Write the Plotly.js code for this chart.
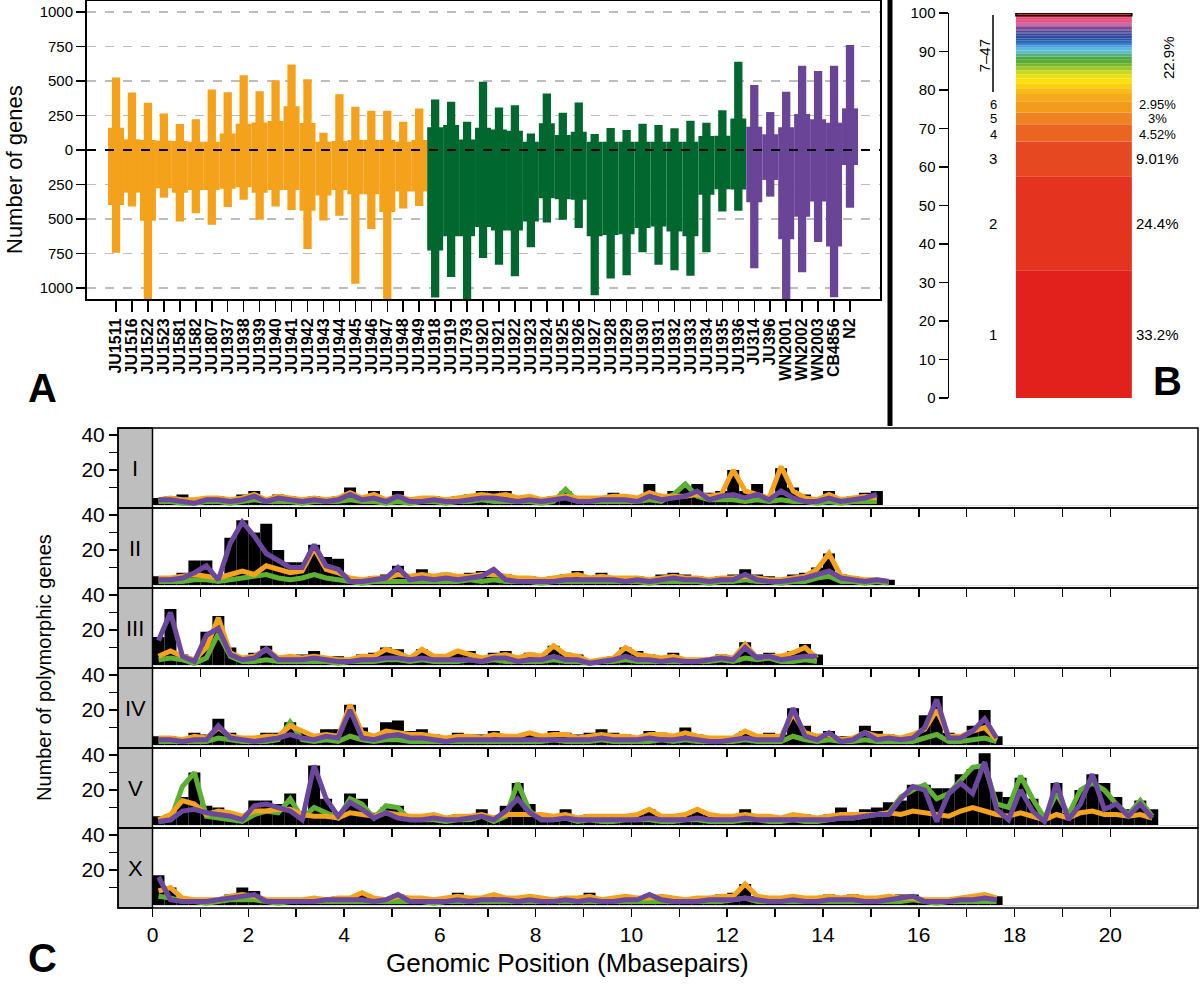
<!DOCTYPE html>
<html><head><meta charset="utf-8">
<script src="https://cdn.plot.ly/plotly-3.0.1.min.js"></script>
<style>html,body{margin:0;padding:0;background:#fff}</style>
</head><body><div id="chart" style="width:1200px;height:984px"></div>
<script>
// ---------------- Panel A data ----------------
const strains = ['JU1511','JU1516','JU1522','JU1523','JU1581','JU1582','JU1807','JU1937','JU1938','JU1939','JU1940','JU1941','JU1942','JU1943','JU1944','JU1945','JU1946','JU1947','JU1948','JU1949',
 'JU1918','JU1919','JU1793','JU1920','JU1921','JU1922','JU1923','JU1924','JU1925','JU1926','JU1927','JU1928','JU1929','JU1930','JU1931','JU1932','JU1933','JU1934','JU1935','JU1936',
 'JU314','JU396','WN2001','WN2002','WN2003','CB4856','N2'];
const strainGroup = ['g1','g1','g1','g1','g1','g1','g1','g1','g1','g1','g1','g1','g1','g1','g1','g1','g1','g1','g1','g1',
 'g2','g2','g2','g2','g2','g2','g2','g2','g2','g2','g2','g2','g2','g2','g2','g2','g2','g2','g2','g2',
 'g3','g3','g3','g3','g3','g3','g3'];
// narrow bars (upper / lower extent, number of genes)
const narrowUp   = [525,417,342,265,188,222,439,419,542,426,506,619,513,125,405,313,284,284,205,301,
                    366,349,205,494,308,325,120,410,270,345,116,159,145,190,181,157,212,198,289,639,
                    471,275,423,611,572,611,761];
const narrowDown = [745,410,1100,345,518,458,542,414,361,506,410,434,718,511,477,969,573,1100,424,405,
                    1070,920,1100,783,831,916,704,525,506,566,1053,932,908,742,831,872,911,742,446,440,
                    857,338,1100,886,667,1068,418];
// wide bars
const wideUp     = [162,77,72,68,65,60,60,120,190,200,210,318,195,60,65,72,72,72,60,72,
                    165,181,77,161,149,140,60,193,108,132,60,60,60,60,60,60,60,101,104,229,
                    169,114,164,261,222,198,302];
const wideDown   = [398,309,512,278,310,290,290,280,270,310,290,290,440,330,290,320,320,450,300,300,
                    728,626,626,559,583,583,518,349,357,361,626,617,610,566,554,590,626,325,285,287,
                    379,217,647,483,374,700,109];
const groupColor = {g1:'#f4a11b', g2:'#00672f', g3:'#6a4597'};
const yTicksA = [-1000,-750,-500,-250,0,250,500,750,1000];

// ---------------- Panel B data ----------------
const classLabels = ['1','2','3','4','5','6','7','8','9','10','11','12','13','14','15','16','17','18','19','20','21','22','23','24','25','26','27','28','29','30','31','32','33','34','35','36','37','38','39','40','41','42','43','44','45','46','47'];
const classPct = [33.2,24.4,9.01,4.52,3.0,2.95,
  1.9,1.5,1.3,1.2,1.1,1.05,0.95,0.9,0.9,0.85,0.8,0.75,0.7,0.65,0.6,0.55,0.5,0.48,0.45,0.42,
  0.4,0.38,0.36,0.34,0.32,0.3,0.28,0.26,0.24,0.22,0.2,0.19,0.18,0.17,0.16,0.15,0.14,0.13,0.12,0.11,0.7];
const classColors = ['#e3211c','#e4331f','#e64821','#ea6422','#ef8321','#f39c1c',
  '#f5ab1c','#f8bb17','#fbd010','#fde20a','#e8e012','#c8d820','#a0c828','#78b830','#5aac35','#4aa840',
  '#58b080','#60bcd0','#58b8e0','#4aa0d8','#3a80c8','#2e68b8','#2a58a8','#2a50a0','#2c4c9c','#3a4a9a',
  '#4a4898','#5a4896','#6a4894','#7a4892','#8a4690','#9a448e','#aa408a','#ba3c86','#c83880','#d4347a',
  '#dc3074','#e22c6c','#e62a64','#e8285c','#e82854','#e6264c','#e42444','#e2223c','#e02234','#de2230','#dc222c'];
const pctLabels = ['33.2%','24.4%','9.01%','4.52%','3%','2.95%'];
const restLabel = '7\u201347';
const restPct = '22.9%';

// ---------------- Panel C data (bins of 0.25 Mb) ----------------
const binSizeMb = 0.25;
const chromosomes = ['I','II','III','IV','V','X'];
const chrI_black  = [4,5,6,3,4,5,3,6,8,4, 6,5,4,5,4,5,10,5,8,4, 8,4,4,5,4,5,6,8,8,8, 5,5,4,5,8,5,4,5,7,5, 4,12,6,8,10,12,7,8,20,8, 12,5,21,10,6,4,8,4,5,7, 8];
const chrI_orange = [3,4,3,3,4,4,3,4,6,3, 5,4,3,4,3,4,7,4,6,3, 5,3,4,4,3,4,5,6,5,6, 4,5,3,4,5,4,4,4,5,5, 4,7,5,5,5,6,5,6,20,8, 6,4,22,8,4,3,6,3,4,5, 4];
const chrI_green  = [2,2,1,1,2,2,1,2,3,2, 2,2,1,2,2,2,3,2,2,1, 2,1,2,2,1,2,2,3,2,2, 2,2,1,2,9,2,2,2,2,2, 2,3,2,6,12,5,3,3,3,2, 3,2,3,2,2,1,2,1,2,2, 2];
const chrI_purple = [3,3,2,1,3,3,2,3,5,2, 4,3,2,3,2,3,6,3,4,2, 5,2,2,3,2,2,3,4,4,3, 2,3,2,3,4,2,2,3,3,3, 2,5,3,4,5,8,3,5,6,4, 6,3,8,4,2,2,4,2,3,4, 6];

const chrII_black  = [5,5,7,14,14,5,27,37,30,35, 20,13,13,23,16,15,4,4,5,6, 11,6,9,6,7,6,7,8,8,6, 5,5,4,5,6,8,5,7,5,4, 5,4,6,7,6,5,4,5,6,9, 6,5,4,6,7,10,18,6,5,4, 4,3];
const chrII_orange = [4,4,5,6,5,4,6,8,6,11, 9,7,8,21,9,7,4,3,4,4, 6,5,6,5,6,5,5,6,6,5, 4,4,3,4,5,6,4,5,4,4, 4,3,4,5,4,4,3,4,4,5, 4,3,3,4,5,9,18,5,4,3, 3,2];
const chrII_green  = [2,2,2,3,3,2,3,4,5,6, 4,3,4,6,4,3,2,1,2,2, 2,2,2,2,2,2,3,2,3,2, 2,2,1,2,2,2,2,2,2,2, 2,1,2,2,2,2,1,2,2,3, 2,2,1,2,2,4,5,2,2,1, 2,1];
const chrII_purple = [3,3,4,7,11,3,24,36,28,18, 14,10,10,23,11,9,2,2,3,4, 10,3,4,3,4,3,4,5,9,3, 2,2,2,2,3,3,3,3,3,2, 3,2,3,4,3,3,2,3,3,6, 3,2,2,3,4,6,8,4,3,2, 3,2];

const chrIII_black  = [16,32,6,3,19,28,10,5,7,11, 5,5,6,8,4,5,4,6,7,10, 9,5,9,6,6,7,8,5,7,8, 5,7,6,11,7,6,3,3,5,10, 8,6,5,7,4,3,4,6,5,13, 6,7,5,8,12,6];
const chrIII_orange = [5,8,5,3,10,27,7,4,5,9, 4,5,4,5,4,3,3,5,5,9, 7,4,9,5,5,8,6,4,5,6, 4,6,5,11,6,5,2,3,4,10, 6,5,4,5,3,3,3,5,4,12, 4,5,5,7,10,4];
const chrIII_green  = [3,4,3,1,4,18,5,2,2,3, 2,2,2,2,2,1,2,2,2,3, 3,2,3,2,2,2,3,2,3,2, 2,2,2,3,2,2,1,2,2,3, 2,2,2,2,2,2,2,3,2,4, 3,4,2,2,3,2];
const chrIII_purple = [14,30,5,2,17,21,6,3,4,9, 3,3,3,4,3,2,2,3,3,4, 4,3,4,3,3,3,3,2,4,4, 2,3,3,5,3,3,1,2,3,5, 3,3,2,3,2,2,3,4,3,10, 4,5,3,4,5,5];

const chrIV_black  = [5,5,4,7,6,15,7,5,4,7, 7,13,8,6,9,9,23,10,6,13, 14,8,9,6,5,7,6,6,8,6, 6,7,6,8,7,6,7,9,7,6, 5,8,7,6,10,6,5,4,5,8, 6,7,6,21,11,6,8,5,5,11, 8,6,5,6,17,28,7,6,11,20, 5];
const chrIV_orange = [4,4,3,5,4,10,5,4,4,5, 5,11,8,5,6,5,23,7,5,8, 7,6,6,5,4,5,5,4,6,5, 5,7,5,6,6,4,5,6,5,5, 4,6,6,5,7,5,4,4,4,8, 5,5,5,18,7,5,6,3,4,7, 5,5,4,6,9,20,5,5,8,10, 3];
const chrIV_green  = [2,2,2,2,2,4,3,2,2,2, 3,13,3,2,3,2,5,3,2,3, 3,2,2,2,2,2,2,2,2,2, 2,2,2,3,2,2,2,3,2,2, 2,2,3,2,3,2,2,2,2,3, 2,2,2,5,3,2,3,2,2,3, 2,2,2,2,4,6,2,2,3,4, 2];
const chrIV_purple = [3,3,2,3,3,11,4,3,2,3, 4,6,4,3,5,4,20,4,3,5, 6,4,4,3,2,3,3,3,3,3, 3,3,3,3,3,3,3,4,3,3, 3,4,3,3,4,3,2,2,3,4, 3,3,3,21,5,3,7,2,3,7, 3,4,3,4,10,26,4,4,8,15, 4];

const chrV_black  = [5,6,16,30,11,10,7,6,14,14, 12,18,8,34,15,7,18,15,7,10, 11,6,6,6,5,6,6,9,4,11, 24,12,6,6,9,5,6,5,5,5, 6,9,6,5,6,9,6,5,5,9, 6,5,5,6,6,5,6,10,7,9, 10,13,14,23,23,21,21,29,32,41, 19,16,27,15,6,24,7,20,29,24, 16,9,14,9];
const chrV_orange = [3,6,14,12,6,8,7,5,8,8, 9,9,6,5,5,4,7,6,5,7, 6,5,5,6,4,5,5,6,4,6, 6,6,6,5,6,4,5,5,5,5, 6,9,5,5,6,9,6,5,5,6, 5,5,4,6,5,4,5,6,6,6, 6,7,6,8,7,6,5,8,10,8, 6,5,7,5,3,6,4,7,8,6, 6,5,6,4];
const chrV_green  = [2,3,22,30,5,4,3,2,6,8, 7,15,4,10,7,4,15,12,4,11, 10,3,3,3,2,3,3,5,2,5, 24,8,3,3,4,2,3,2,2,3, 3,3,2,2,3,3,2,2,2,3, 3,2,2,3,2,2,3,4,4,5, 6,7,16,20,23,15,18,25,33,34, 12,10,28,15,4,18,6,20,24,20, 12,6,14,5];
const chrV_purple = [2,3,8,9,7,6,5,3,11,12, 10,8,3,34,15,5,13,9,4,7, 4,3,3,4,3,3,4,5,3,8, 15,7,3,3,4,3,3,3,3,3, 3,4,3,3,3,4,3,3,3,4, 3,3,3,3,3,3,3,4,4,5, 6,6,15,22,20,2,18,24,18,36, 9,3,20,8,2,24,3,12,29,9, 12,5,12,4];

const chrX_black  = [17,10,4,3,3,4,6,10,8,4, 3,4,3,4,4,5,5,6,4,4, 6,4,4,3,4,7,5,5,6,5, 4,5,4,4,5,4,7,4,4,5, 4,6,5,4,4,4,5,6,7,12, 5,5,5,5,4,5,6,5,6,4, 4,5,6,6,3,3,4,4,5,6, 5];
const chrX_orange = [8,10,4,3,3,3,5,6,5,3, 3,3,3,4,3,4,4,7,4,3, 5,4,4,3,4,5,4,4,6,4, 4,5,4,3,4,4,5,3,4,5, 4,4,5,4,3,4,4,5,5,12, 5,4,4,5,4,4,5,4,5,4, 4,5,4,4,3,3,3,4,5,6, 4];
const chrX_green  = [5,4,2,2,1,2,3,3,3,2, 1,2,2,2,2,2,2,2,2,2, 2,2,2,1,2,2,2,2,2,2, 2,2,2,2,2,2,2,2,2,2, 2,2,2,2,2,2,2,2,3,4, 2,2,2,2,2,2,2,2,2,2, 2,2,2,3,2,1,2,2,2,2, 2];
const chrX_purple = [16,3,2,2,2,3,4,5,6,2, 2,2,2,2,3,3,3,3,2,3, 6,2,2,2,2,3,2,3,3,3, 2,3,2,2,3,2,3,2,2,3, 3,6,3,2,2,2,3,3,3,4, 3,2,2,3,2,2,3,3,3,2, 2,3,4,5,2,2,2,3,3,4, 3];

const chrData = [
  {black:chrI_black,   green:chrI_green,   orange:chrI_orange,   purple:chrI_purple},
  {black:chrII_black,  green:chrII_green,  orange:chrII_orange,  purple:chrII_purple},
  {black:chrIII_black, green:chrIII_green, orange:chrIII_orange, purple:chrIII_purple},
  {black:chrIV_black,  green:chrIV_green,  orange:chrIV_orange,  purple:chrIV_purple},
  {black:chrV_black,   green:chrV_green,   orange:chrV_orange,   purple:chrV_purple},
  {black:chrX_black,   green:chrX_green,   orange:chrX_orange,   purple:chrX_purple}
];
const mbTicks = [0,1,2,3,4,5,6,7,8,9,10,11,12,13,14,15,16,17,18,19,20];

// ---------------- Layout helpers ----------------
const W = 1200, H = 984;
const fx = p => p / W;
const fy = p => 1 - p / H;
const FONT = 'Liberation Sans, Arial, Helvetica, sans-serif';
const lineColors = {green:'#5db132', orange:'#f5a31c', purple:'#6b489e'};

const traces = [];
const idx = strains.map((s, i) => i);
const barColors = strainGroup.map(g => groupColor[g]);

traces.push({type:'bar', x: idx, y: idx.map(i => wideUp[i] + wideDown[i]), base: idx.map(i => -wideDown[i]),
  width: 1.0, marker:{color: barColors, line:{width:0}}, xaxis:'x', yaxis:'y', hoverinfo:'skip'});
traces.push({type:'bar', x: idx, y: idx.map(i => narrowUp[i] + narrowDown[i]), base: idx.map(i => -narrowDown[i]),
  width: 0.52, marker:{color: barColors, line:{width:0}}, xaxis:'x', yaxis:'y', hoverinfo:'skip'});

// Panel B
const cum = [];
classPct.reduce((acc, v, i) => { cum[i] = acc; return acc + v; }, 0);
traces.push({type:'bar', x: classPct.map(() => 'share'), y: classPct, base: cum, width: 0.8,
  marker:{color: classColors,
          line:{color: classPct.map(() => '#000'), width: classPct.map((v, i) => i === classPct.length - 1 ? 1.5 : 0)}},
  xaxis:'x2', yaxis:'y2', hoverinfo:'skip', text: classLabels, textposition:'none'});

// Panel C
chromosomes.forEach((c, k) => {
  const d = chrData[k];
  const xs = d.black.map((v, i) => binSizeMb * (i + 0.5));
  const xa = 'x' + (k + 3), ya = 'y' + (k + 3);
  traces.push({type:'bar', x: xs, y: d.black, width: binSizeMb, marker:{color:'#000', line:{width:0}}, xaxis: xa, yaxis: ya, hoverinfo:'skip'});
  ['green','orange','purple'].forEach(s => {
    traces.push({type:'scatter', mode:'lines', x: xs, y: d[s], line:{color: lineColors[s], width: 5}, xaxis: xa, yaxis: ya, hoverinfo:'skip'});
  });
});

const layout = {
  width: W, height: H, margin:{l:0, r:0, t:0, b:0}, paper_bgcolor:'#fff', plot_bgcolor:'rgba(0,0,0,0)',
  showlegend:false, barmode:'overlay', hovermode:false,
  font:{family: FONT, color:'#000'},
  xaxis:{domain:[fx(87), fx(880)], range:[-1.82, 47.88], anchor:'y', tickvals: idx, ticktext: strains, tickangle:-90,
    tickfont:{size:16, weight:'bold', family: FONT}, ticks:'outside', ticklen:11, tickwidth:1.5, tickcolor:'#000',
    showline:true, mirror:true, linewidth:2, linecolor:'#000', showgrid:false, zeroline:false},
  yaxis:{domain:[fy(299), fy(1)], range:[-1080, 1080], anchor:'x', tickvals: yTicksA, ticktext: yTicksA.map(v => String(Math.abs(v))),
    tickfont:{size:15}, ticks:'outside', ticklen:9, tickwidth:1.5, tickcolor:'#000',
    showgrid:true, gridcolor:'#bdbdbd', gridwidth:1.5, griddash:'dash', zeroline:false,
    showline:true, mirror:true, linewidth:2, linecolor:'#000'},
  xaxis2:{domain:[fx(949), fx(1195)], type:'category', range:[-0.862, 0.836], anchor:'y2', showline:false, showticklabels:false, ticks:'', showgrid:false, zeroline:false},
  yaxis2:{domain:[fy(398), fy(13)], range:[0, 100], anchor:'x2', tickvals:[0,10,20,30,40,50,60,70,80,90,100],
    tickfont:{size:15}, ticks:'outside', ticklen:9, tickwidth:1.5, tickcolor:'#000', showline:true, linewidth:1.5, linecolor:'#000', showgrid:false, zeroline:false},
  shapes: [], annotations: []
};

chromosomes.forEach((c, k) => {
  const top = 428 + 80 * k, bot = top + 80;
  const last = k === chromosomes.length - 1;
  layout['xaxis' + (k + 3)] = {domain:[fx(152.5), fx(1198)], range:[0, 21.83], anchor:'y' + (k + 3),
    tickvals: mbTicks, ticktext: mbTicks.map(v => v % 2 === 0 ? String(v) : ''), showticklabels: last,
    tickfont:{size:21}, ticks:'outside', ticklen:8, tickwidth:1.5, tickcolor:'#000', showline:false, showgrid:false, zeroline:false};
  layout['yaxis' + (k + 3)] = {domain:[fy(bot), fy(top)], range:[-1.7, 44], anchor:'free', position: fx(118),
    tickvals:[10,20,30,40], ticktext:['','20','','40'], tickfont:{size:21}, ticks:'outside', ticklen:9, tickwidth:1.5, tickcolor:'#000',
    showline:false, showgrid:false, zeroline:true, zerolinecolor:'#dcdcdc', zerolinewidth:1};
  layout.shapes.push({type:'rect', xref:'paper', yref:'paper', x0: fx(118), x1: fx(152.5), y0: fy(bot), y1: fy(top), fillcolor:'#bebebe', line:{color:'#000', width:1.5}, layer:'below'});
  layout.shapes.push({type:'rect', xref:'paper', yref:'paper', x0: fx(118), x1: fx(1198), y0: fy(bot), y1: fy(top), fillcolor:'rgba(0,0,0,0)', line:{color:'#000', width:1.5}});
  layout.annotations.push({text: c, xref:'paper', yref:'paper', x: fx(135), y: fy((top + bot) / 2), showarrow:false, font:{size:22}, xanchor:'center', yanchor:'middle'});
});

// reference lines
layout.shapes.push({type:'line', xref:'x domain', yref:'y', x0:0, x1:1, y0:0, y1:0, line:{color:'#000', width:2, dash:'dash'}});
layout.shapes.push({type:'line', xref:'paper', yref:'paper', x0: fx(890), x1: fx(890), y0: fy(0), y1: fy(426), line:{color:'#000', width:5}});
layout.shapes.push({type:'line', xref:'paper', yref:'y2', x0: fx(993), x1: fx(993), y0: 79.5, y1: 99.5, line:{color:'#000', width:1.5}});

// Panel B labels (small shifts keep the tightly stacked labels 4, 5, 6 apart)
const labelShift = [0, 0, 0, -2, 0, 2];
for (let i = 0; i < 6; i++) {
  const yc = cum[i] + classPct[i] / 2;
  const sz = i >= 3 ? 13 : 15;
  layout.annotations.push({text: classLabels[i], xref:'paper', yref:'y2', x: fx(993), y: yc, yshift: labelShift[i], showarrow:false, font:{size:sz}, xanchor:'center', yanchor:'middle'});
  layout.annotations.push({text: pctLabels[i], xref:'paper', yref:'y2', x: fx(1157), y: yc, yshift: labelShift[i], showarrow:false, font:{size:sz}, xanchor:'center', yanchor:'middle'});
}
layout.annotations.push({text: restLabel, xref:'paper', yref:'y2', x: fx(984), y: 89, textangle:-90, showarrow:false, font:{size:15}, xanchor:'center', yanchor:'middle'});
layout.annotations.push({text: restPct, xref:'paper', yref:'y2', x: fx(1168), y: 88.3, textangle:-90, showarrow:false, font:{size:15}, xanchor:'center', yanchor:'middle'});

// titles and panel letters
const ann = (text, x, y, size, extra) => layout.annotations.push(Object.assign({text, xref:'paper', yref:'paper', x: fx(x), y: fy(y), showarrow:false, font:{size}, xanchor:'center', yanchor:'middle'}, extra || {}));
ann('Number of genes', 15, 170, 22, {textangle:-90});
ann('Number of polymorphic genes', 44, 668, 20, {textangle:-90});
ann('Genomic Position (Mbasepairs)', 567, 963, 26);
ann('A', 42, 388, 40, {font:{size:40, weight:'bold'}});
ann('B', 1167, 381, 40, {font:{size:40, weight:'bold'}});
ann('C', 42, 958, 40, {font:{size:40, weight:'bold'}});

Plotly.newPlot('chart', traces, layout, {displayModeBar:false, staticPlot:true});
</script></body></html>
